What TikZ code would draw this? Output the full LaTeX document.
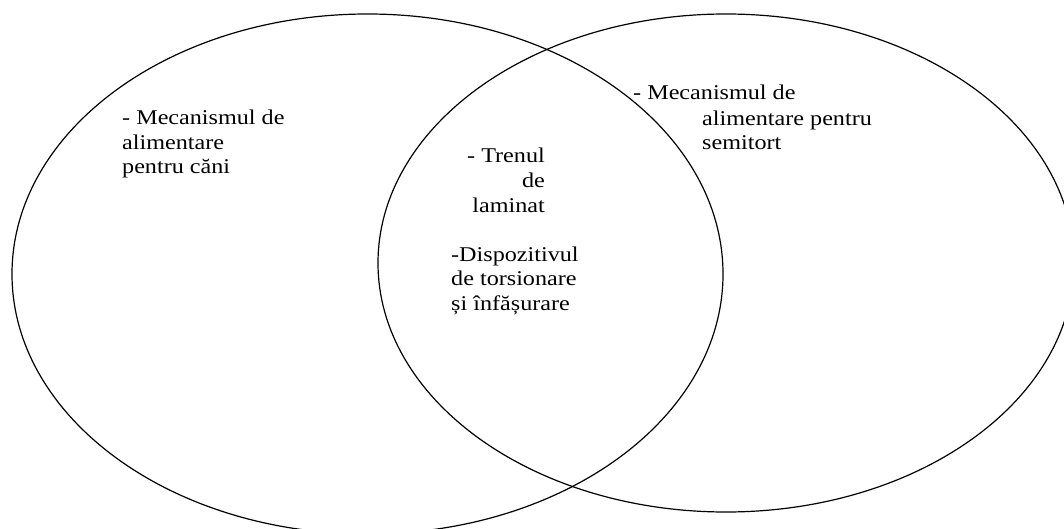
\documentclass[tikz,border=0pt]{standalone}
\usepackage{fontspec}
\setmainfont[FakeStretch=1.15]{Liberation Serif}
\usepackage{tikz}

\tikzset{
  set/.style={line width=1.2pt},
  txt/.style={draw=none, inner sep=0pt, align=left, font=\fontsize{21}{24.5}\selectfont},
}

\begin{document}
\begin{tikzpicture}[x=1pt, y=-1pt]
             \useasboundingbox (0,0) rectangle (1064,529);

             % the two sets
             \begin{scope}
             \clip (0,0) rectangle (1064,529);
             \draw[set] (367.5, 274) ellipse [x radius=355.5pt, y radius=260pt];
             \draw[set] (726, 263) ellipse [x radius=348pt, y radius=249pt];
             \end{scope}

             % left set (base = last line)
             \node[txt, anchor=base west] (cani) at (122, 174)
               {- Mecanismul de\\alimentare\\pentru căni};

             % right set
             \node[txt, anchor=base west] (semi1) at (633, 100) {- Mecanismul de};
             \node[txt, anchor=base west] (semi2) at (702, 150)
               {alimentare pentru\\semitort};

             % common part
             \node[txt, align=right, anchor=base east] (tren) at (545, 212)
               {- Trenul\\de\\laminat};
             \node[txt, anchor=base west] (disp) at (451, 310)
               {-Dispozitivul\\de torsionare\\și înfășurare};
\end{tikzpicture}
\end{document}
